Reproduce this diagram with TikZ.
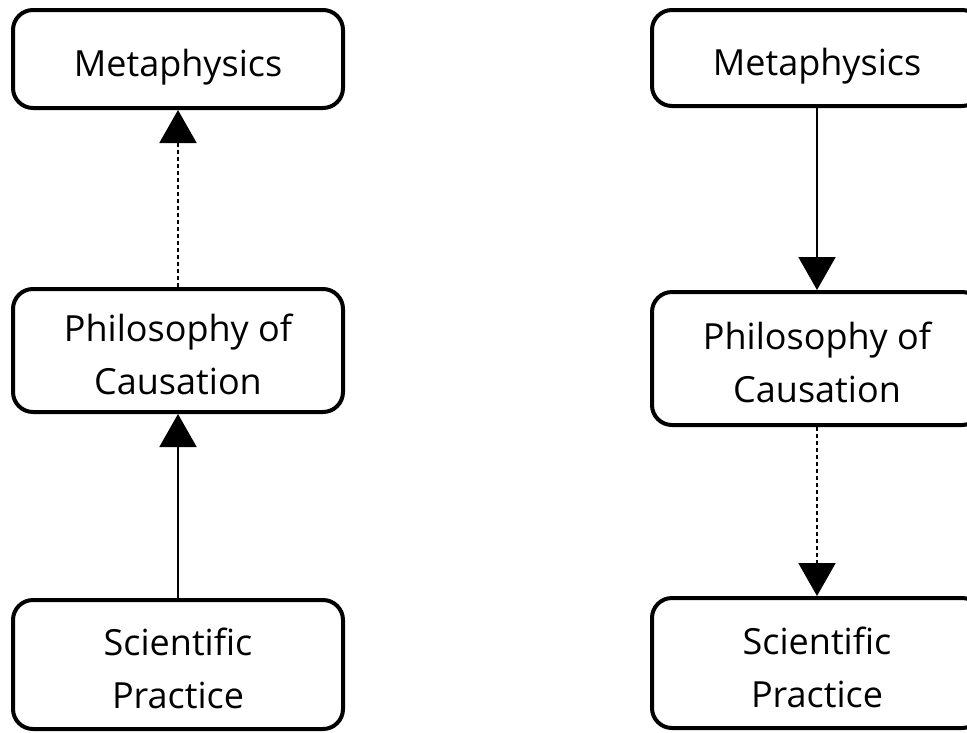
\documentclass[tikz,border=0pt]{standalone}
\usepackage{fontspec}
\setmainfont{Open Sans}
\usetikzlibrary{arrows.meta}
% label set a little below the box centre, keeping its nominal size
\newcommand{\boxtext}[1]{\raisebox{-7pt}[\height][\depth]{\begin{tabular}{@{}c@{}}#1\end{tabular}}}
\tikzset{
  box/.style={draw=black, line width=4pt, rounded corners=20pt, fill=white,
    inner sep=0pt, minimum width=330pt,
    font=\fontsize{36}{53}\selectfont},
  link/.style={line width=2pt, -{Triangle[length=33pt,width=37pt]}},
  weak/.style={link, dash pattern=on 4pt off 3pt}
}
\begin{document}
\begin{tikzpicture}[x=1pt,y=1pt]
  \useasboundingbox (0,0) rectangle (967,-732);
  % left column: evidence flows upward
  \node[box, minimum height=98pt]  (lm) at (178,-59)    {\boxtext{Metaphysics}};
  \node[box, minimum height=123pt] (lp) at (178,-350.5) {\boxtext{Philosophy of\\Causation}};
  \node[box, minimum height=129pt] (ls) at (178,-664.5) {\boxtext{Scientific\\Practice}};
  % right column: constraints flow downward
  \node[box, minimum height=96pt]  (rm) at (817,-58)    {\boxtext{Metaphysics}};
  \node[box, minimum height=133pt] (rp) at (817,-358.5) {\boxtext{Philosophy of\\Causation}};
  \node[box, minimum height=130pt] (rs) at (817,-663)   {\boxtext{Scientific\\Practice}};
  % connectors
  \draw[weak] (lp.north) -- (lm.south);
  \draw[link] (ls.north) -- (lp.south);
  \draw[link] (rm.south) -- (rp.north);
  \draw[weak] (rp.south) -- (rs.north);
\end{tikzpicture}
\end{document}
